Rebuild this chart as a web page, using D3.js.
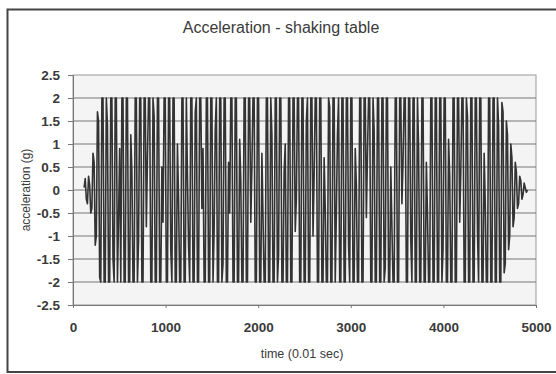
<!DOCTYPE html>
<html><head><meta charset="utf-8">
<script src="https://cdn.jsdelivr.net/npm/d3@7"></script>
<style>body{margin:0;background:#fff}svg{display:block}text{font-family:"Liberation Sans",Arial,sans-serif}</style>
</head><body>
<svg id="c" width="556" height="374"></svg>
<script>
const title = "Acceleration - shaking table";
const xTitle = "time (0.01 sec)";
const yTitle = "acceleration (g)";
const xTicks = [0, 1000, 2000, 3000, 4000, 5000];
const yTicks = [-2.5, -2, -1.5, -1, -0.5, 0, 0.5, 1, 1.5, 2, 2.5];
const startTime = 120;   // first read-off sample (0.01 s)
const timeStep = 12;     // spacing of read-off samples (0.01 s)
const rampUp = [0.05, 0.25, -0.2, -0.3, 0.3, 0.1, -0.5, -0.4, 0.8, 0.6, -1.2, -1.0, 1.7, 1.5, -1.9, -2];
const strongMotion = [
 2,2,-2,-2,2,1.4,-2,-2,2,2,-1.5,-2,
 2,2,-2,-0.6,0.9,-2,2,2,-2,-2,2,2,
 -2,-2,1.2,0.4,-2,-2,2,2,-2,-1.1,2,2,
 -2,-2,2,2,-0.8,0.7,2,2,-2,-2,2,1.6,
 -2,-2,2,2,-2,-2,0.5,-0.7,2,2,-2,-2,
 2,2,-1.3,-2,2,2,-2,-2,1.0,-0.2,-2,-2,
 2,2,-2,-2,2,0.3,-1.2,-2,2,2,-2,-2,
 1.7,2,-2,-2,2,2,-0.4,0.9,-2,-2,2,2,
 -2,-2,2,2,-2,-0.9,1.3,2,-2,-2,2,2,
 -2,-1.6,2,2,-2,-2,0.6,-0.5,2,2,-2,-2,
 2,2,-2,-2,1.1,0.2,-2,-2,2,2,-2,-2,
 2,2,-0.7,0.5,2,2,-2,-2,2,2,-2,-2,
 0.8,-0.6,-2,-2,2,2,-2,-2,2,1.2,-2,-2,
 2,2,-2,-1.4,2,2,-2,-2,0.4,1.0,-2,-2,
 2,2,-2,-2,2,2,-0.9,-0.2,2,2,-2,-2,
 2,2,-2,-2,1.5,2,-2,-2,2,2,-1.0,0.3,
 2,2,-2,-2,2,2,-2,-2,0.7,-0.4,-2,-2,
 2,1.8,-2,-2,2,2,-2,-0.5,1.2,2,-2,-2,
 2,2,-2,-2,2,2,-1.2,-2,2,2,-2,-2,
 0.9,0.1,-2,-2,2,2,-2,-2,2,2,-0.6,0.8,
 2,2,-2,-2,2,1.3,-2,-2,2,2,-2,-2,
 2,2,-2,-1.7,2,2,-2,-2,0.5,-0.8,-2,-2,
 2,2,-2,-2,2,2,-0.3,0.6,2,2,-2,-2,
 2,2,-1.1,-2,2,2,-2,-2,2,0.9,-2,-2,
 2,2,-2,-2,0.6,-0.5,-2,-2,2,2,-2,-2,
 2,2,-2,-2,2,2,-2,-1.3,2,2,-2,-2,
 1.1,0.3,-2,-2,2,2,-2,-2,2,2,-0.7,0.4,
 2,2,-2,-2,2,1.6,-2,-2,2,2,-2,-2,
 2,2,-0.9,-2,2,2,-2,-2,0.8,-0.3,-2,-2,
 2,2,-2,-2,2,2,-2,-2,2,1.4,-2,-2
];
const decay = [1.9, 1.7, -1.8, -1.6, 1.5, 1.2, -1.3, -1.0, 1.0, 0.7, -0.8, -0.6,
               0.6, 0.4, -0.4, -0.3, 0.3, 0.2, -0.2, -0.1, 0.15, 0.05, -0.05, 0];

const values = rampUp.concat(strongMotion, decay);
const data = values.map((v, i) => ({t: startTime + i * timeStep, a: v}));

const svg = d3.select("#c");
const m = {l: 73, r: 536, t: 75, b: 305};
const x = d3.scaleLinear().domain([0, 5000]).range([m.l, m.r]);
const y = d3.scaleLinear().domain([-2.5, 2.5]).range([m.b, m.t]);

svg.append("rect").attr("x", 7.5).attr("y", 9.5).attr("width", 570).attr("height", 362.5)
  .attr("fill", "#fff").attr("stroke", "#444").attr("stroke-width", 2);

svg.append("rect").attr("x", m.l).attr("y", m.t).attr("width", m.r - m.l).attr("height", m.b - m.t)
  .attr("fill", "#f4f4f4").attr("stroke", "#999");

svg.append("g").selectAll("line").data(yTicks.filter(d => d > -2.5 && d < 2.5)).join("line")
  .attr("x1", m.l).attr("x2", m.r).attr("y1", d => y(d)).attr("y2", d => y(d))
  .attr("stroke", "#777").attr("stroke-width", 1);

const line = d3.line().x(d => x(d.t)).y(d => y(d.a));
svg.append("path").datum(data).attr("d", line).attr("fill", "none")
  .attr("stroke", "#333").attr("stroke-width", 1.6).attr("stroke-linejoin", "round");

const fmt = d => String(d);
const yAxis = svg.append("g").attr("transform", `translate(${m.l},0)`)
  .call(d3.axisLeft(y).tickValues(yTicks).tickSize(5).tickFormat(fmt));
const xAxis = svg.append("g").attr("transform", `translate(0,${m.b})`)
  .call(d3.axisBottom(x).tickValues(xTicks).tickSize(3).tickFormat(fmt));
[yAxis, xAxis].forEach(g => {
  g.select(".domain").attr("stroke", "#777");
  g.selectAll(".tick line").attr("stroke", "#777");
  g.selectAll("text").attr("fill", "#3a3a3a").style("font-size", "13.5px").style("font-weight", "bold");
});
yAxis.selectAll("text").attr("x", -13).attr("dy", "0.36em");
xAxis.selectAll("text").attr("y", 27).attr("dy", 0);

svg.append("text").attr("x", 281).attr("y", 33).attr("text-anchor", "middle")
  .style("font-size", "16px").attr("fill", "#3a3a3a").text(title);
svg.append("text").attr("x", 302).attr("y", 358).attr("text-anchor", "middle")
  .style("font-size", "12.5px").attr("fill", "#3a3a3a").text(xTitle);
svg.append("text").attr("transform", "translate(30,190) rotate(-90)").attr("text-anchor", "middle")
  .style("font-size", "12px").attr("fill", "#3a3a3a").text(yTitle);
</script>
</body></html>
